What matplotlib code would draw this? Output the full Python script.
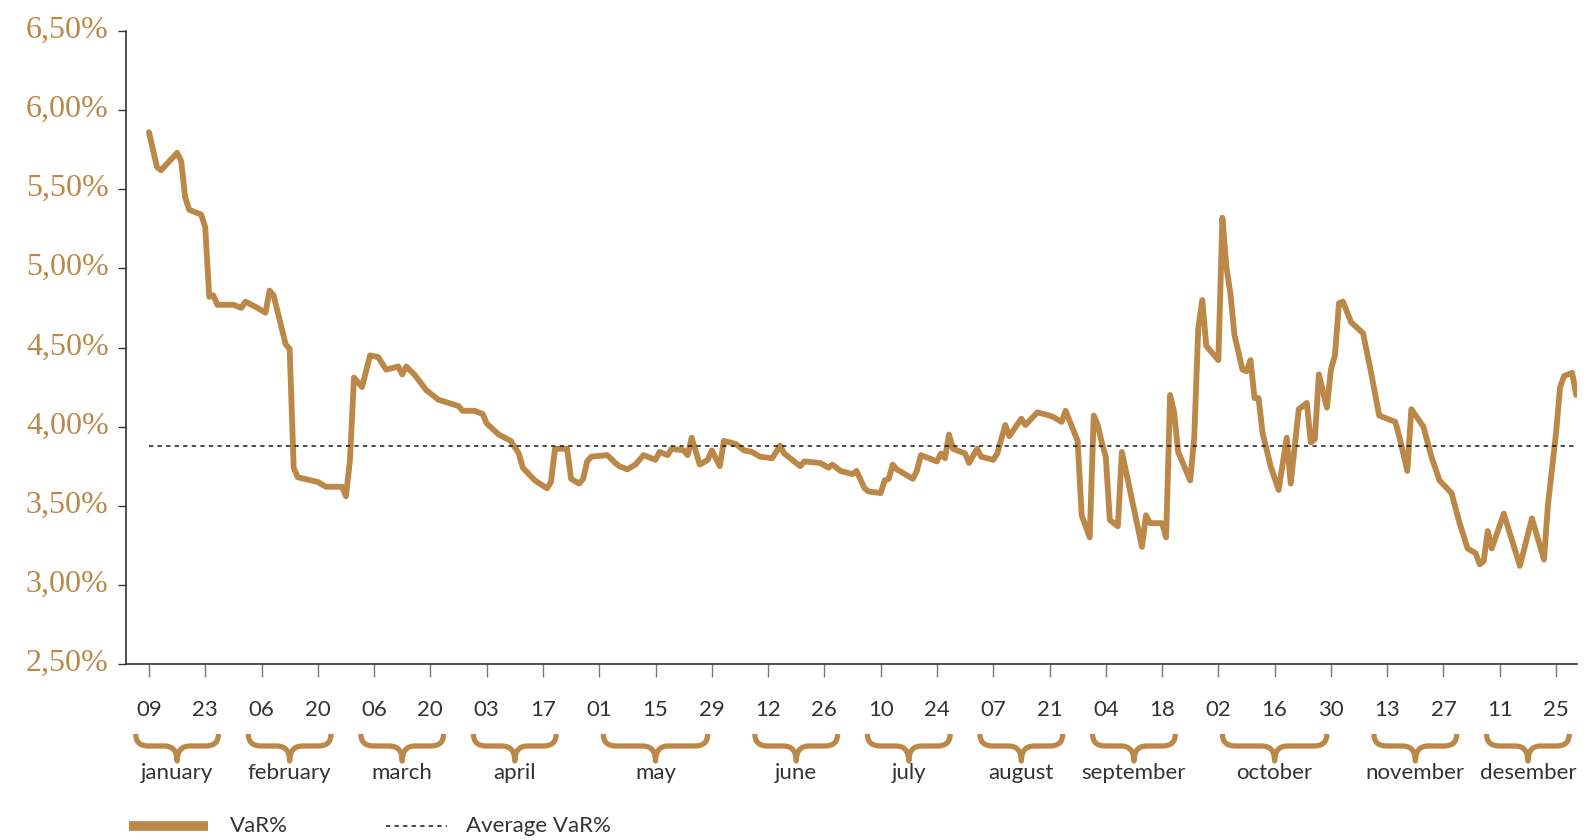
import matplotlib
matplotlib.use('Agg')
import matplotlib.pyplot as plt
import matplotlib.dates as mdates
import matplotlib.transforms as mtransforms
from matplotlib.path import Path
from matplotlib.patches import PathPatch
from matplotlib.lines import Line2D
import pandas as pd

# VaR% (vertices of the line)
dates = [
    "2017-01-09", "2017-01-11", "2017-01-12", "2017-01-16", "2017-01-17", "2017-01-18",
    "2017-01-19", "2017-01-22", "2017-01-23", "2017-01-24", "2017-01-25", "2017-01-26",
    "2017-01-30", "2017-02-01", "2017-02-02", "2017-02-05", "2017-02-07", "2017-02-08",
    "2017-02-09", "2017-02-12", "2017-02-13", "2017-02-14", "2017-02-15", "2017-02-20",
    "2017-02-22", "2017-02-26", "2017-02-27", "2017-02-28", "2017-03-01", "2017-03-03",
    "2017-03-05", "2017-03-07", "2017-03-09", "2017-03-12", "2017-03-13", "2017-03-14",
    "2017-03-16", "2017-03-19", "2017-03-22", "2017-03-27", "2017-03-28", "2017-03-31",
    "2017-04-02", "2017-04-03", "2017-04-06", "2017-04-09", "2017-04-11", "2017-04-12",
    "2017-04-15", "2017-04-18", "2017-04-19", "2017-04-20", "2017-04-23", "2017-04-24",
    "2017-04-26", "2017-04-27", "2017-04-28", "2017-04-29", "2017-05-03", "2017-05-05",
    "2017-05-06", "2017-05-08", "2017-05-10", "2017-05-12", "2017-05-15", "2017-05-16",
    "2017-05-18", "2017-05-19", "2017-05-22", "2017-05-23", "2017-05-24", "2017-05-26",
    "2017-05-28", "2017-05-29", "2017-05-31", "2017-06-01", "2017-06-04", "2017-06-06",
    "2017-06-08", "2017-06-10", "2017-06-13", "2017-06-15", "2017-06-16", "2017-06-20",
    "2017-06-21", "2017-06-25", "2017-06-27", "2017-06-28", "2017-06-30", "2017-07-03",
    "2017-07-04", "2017-07-06", "2017-07-07", "2017-07-10", "2017-07-11", "2017-07-12",
    "2017-07-13", "2017-07-14", "2017-07-18", "2017-07-19", "2017-07-20", "2017-07-24",
    "2017-07-25", "2017-07-26", "2017-07-27", "2017-07-28", "2017-07-31", "2017-08-01",
    "2017-08-03", "2017-08-04", "2017-08-07", "2017-08-08", "2017-08-10", "2017-08-11",
    "2017-08-14", "2017-08-15", "2017-08-18", "2017-08-21", "2017-08-22", "2017-08-24",
    "2017-08-25", "2017-08-28", "2017-08-29", "2017-08-31", "2017-09-01", "2017-09-02",
    "2017-09-03", "2017-09-04", "2017-09-05", "2017-09-07", "2017-09-08", "2017-09-10",
    "2017-09-13", "2017-09-14", "2017-09-15", "2017-09-18", "2017-09-19", "2017-09-20",
    "2017-09-21", "2017-09-22", "2017-09-25", "2017-09-26", "2017-09-27", "2017-09-28",
    "2017-09-29", "2017-10-02", "2017-10-03", "2017-10-04", "2017-10-05", "2017-10-06",
    "2017-10-08", "2017-10-09", "2017-10-10", "2017-10-11", "2017-10-12", "2017-10-13",
    "2017-10-15", "2017-10-17", "2017-10-19", "2017-10-20", "2017-10-22", "2017-10-24",
    "2017-10-25", "2017-10-26", "2017-10-27", "2017-10-29", "2017-10-30", "2017-10-31",
    "2017-11-01", "2017-11-02", "2017-11-04", "2017-11-07", "2017-11-09", "2017-11-11",
    "2017-11-15", "2017-11-16", "2017-11-18", "2017-11-19", "2017-11-22", "2017-11-24",
    "2017-11-26", "2017-11-29", "2017-12-01", "2017-12-03", "2017-12-05", "2017-12-06",
    "2017-12-07", "2017-12-08", "2017-12-09", "2017-12-12", "2017-12-16", "2017-12-19",
    "2017-12-22", "2017-12-23", "2017-12-25", "2017-12-26", "2017-12-27", "2017-12-29",
    "2017-12-30",
]
var_pct = [
    5.86, 5.64, 5.62, 5.73, 5.68, 5.45,
    5.37, 5.34, 5.26, 4.82, 4.83, 4.77,
    4.77, 4.75, 4.79, 4.75, 4.72, 4.86,
    4.83, 4.52, 4.49, 3.74, 3.68, 3.65,
    3.62, 3.62, 3.56, 3.79, 4.31, 4.25,
    4.45, 4.44, 4.36, 4.38, 4.33, 4.38,
    4.33, 4.23, 4.17, 4.13, 4.10, 4.10,
    4.08, 4.02, 3.95, 3.91, 3.83, 3.74,
    3.66, 3.61, 3.65, 3.86, 3.86, 3.67,
    3.64, 3.67, 3.78, 3.81, 3.82, 3.77,
    3.75, 3.73, 3.76, 3.82, 3.79, 3.84,
    3.82, 3.86, 3.85, 3.82, 3.93, 3.76,
    3.79, 3.85, 3.75, 3.91, 3.89, 3.85,
    3.84, 3.81, 3.80, 3.88, 3.83, 3.75,
    3.78, 3.77, 3.74, 3.76, 3.72, 3.70,
    3.72, 3.61, 3.59, 3.58, 3.66, 3.67,
    3.76, 3.73, 3.67, 3.72, 3.82, 3.78,
    3.83, 3.80, 3.95, 3.86, 3.83, 3.77,
    3.86, 3.81, 3.79, 3.83, 4.01, 3.94,
    4.05, 4.01, 4.09, 4.07, 4.06, 4.03,
    4.10, 3.91, 3.44, 3.30, 4.07, 4.01,
    3.90, 3.81, 3.41, 3.37, 3.84, 3.60,
    3.24, 3.44, 3.39, 3.39, 3.30, 4.20,
    4.09, 3.84, 3.66, 3.93, 4.62, 4.80,
    4.51, 4.42, 5.32, 5.01, 4.84, 4.58,
    4.36, 4.35, 4.42, 4.18, 4.18, 3.96,
    3.75, 3.60, 3.93, 3.64, 4.11, 4.15,
    3.90, 3.92, 4.33, 4.12, 4.36, 4.45,
    4.78, 4.79, 4.66, 4.59, 4.34, 4.07,
    4.03, 3.94, 3.72, 4.11, 4.00, 3.81,
    3.66, 3.58, 3.39, 3.23, 3.20, 3.13,
    3.15, 3.34, 3.23, 3.45, 3.12, 3.42,
    3.16, 3.51, 3.96, 4.25, 4.32, 4.34,
    4.20,
]
avg_var = 3.88

y_ticks = [2.5, 3.0, 3.5, 4.0, 4.5, 5.0, 5.5, 6.0, 6.5]
tick_dates = pd.date_range("2017-01-09", "2017-12-25", freq="14D")
month_names = ["january", "february", "march", "april", "may", "june", "july",
               "august", "september", "october", "november", "desember"]

gold = "#BC8848"
dark = "#333333"

plt.rcParams["font.family"] = ["Lato", "DejaVu Sans"]

W, H = 1587, 840
fig = plt.figure(figsize=(W / 100, H / 100), dpi=100)
ax = fig.add_axes([126 / W, 1 - 664 / H, (1577 - 126) / W, (664 - 31) / H])

x = pd.to_datetime(dates)
ax.plot(x, var_pct, color=gold, lw=4.2, solid_joinstyle="round", solid_capstyle="round")
ax.hlines(avg_var, x[0], x[-1], colors="#1a1a1a", linestyles=(0, (2.8, 2.8)), lw=1.1)

ax.set_ylim(2.5, 6.5)
ax.set_xlim(pd.Timestamp("2017-01-03 07:00"), pd.Timestamp("2017-12-30 05:00"))

ax.set_yticks(y_ticks)
ax.set_yticklabels([f"{v:.2f}".replace(".", ",") + "%" for v in y_ticks],
                   fontfamily="Liberation Serif")
ax.tick_params(axis="y", length=5.5, width=1, color=dark, pad=7,
               labelsize=23, labelcolor=gold)
for lab in ax.get_yticklabels():
    lab.set_transform(lab.get_transform() + mtransforms.ScaledTranslation(0, 3 / 72, fig.dpi_scale_trans))

ax.set_xticks(tick_dates)
ax.set_xticklabels([d.strftime("%d") for d in tick_dates])
ax.tick_params(axis="x", length=9, width=1, color="#777777", pad=17,
               labelsize=16, labelcolor=dark)

for s in ["top", "right"]:
    ax.spines[s].set_visible(False)
for s in ["left", "bottom"]:
    ax.spines[s].set_color(dark)
    ax.spines[s].set_linewidth(1.2)

# month braces under the tick labels
trans = mtransforms.blended_transform_factory(ax.transData, fig.transFigure)
y0, y1, y2 = 1 - 734 / H, 1 - 746 / H, 1 - 761 / H
r = 3.2
for m, name in enumerate(month_names, start=1):
    ds = [mdates.date2num(d) for d in tick_dates if d.month == m]
    xc = sum(ds) / len(ds)
    half = 10.3 + 2.7 * (len(ds) - 2)
    xl, xr = xc - half, xc + half
    verts = [(xl, y0), (xl, y1), (xl + r, y1), (xc - r, y1), (xc, y1), (xc, y2),
             (xc, y1), (xc + r, y1), (xr - r, y1), (xr, y1), (xr, y0)]
    codes = [Path.MOVETO, Path.CURVE3, Path.CURVE3, Path.LINETO, Path.CURVE3, Path.CURVE3,
             Path.CURVE3, Path.CURVE3, Path.LINETO, Path.CURVE3, Path.CURVE3]
    fig.add_artist(PathPatch(Path(verts, codes), transform=trans, fill=False,
                             ec=gold, lw=3.8, capstyle="butt", joinstyle="round"))
    fig.text(xc, 1 - 779 / H, name, transform=trans, ha="center", va="baseline",
             fontsize=16, color=dark)

# legend
ly = 1 - 826 / H
fig.add_artist(Line2D([129 / W, 208 / W], [ly, ly], color=gold, lw=7,
                      transform=fig.transFigure, solid_capstyle="butt"))
fig.text(230 / W, ly, "VaR%", fontsize=16, color=dark, va="center")
fig.add_artist(Line2D([386 / W, 447 / W], [ly, ly], color="#1a1a1a", lw=1.1,
                      linestyle=(0, (2.8, 2.8)), transform=fig.transFigure))
fig.text(466 / W, ly, "Average VaR%", fontsize=16, color=dark, va="center")

fig.savefig("out.png", dpi=100)
